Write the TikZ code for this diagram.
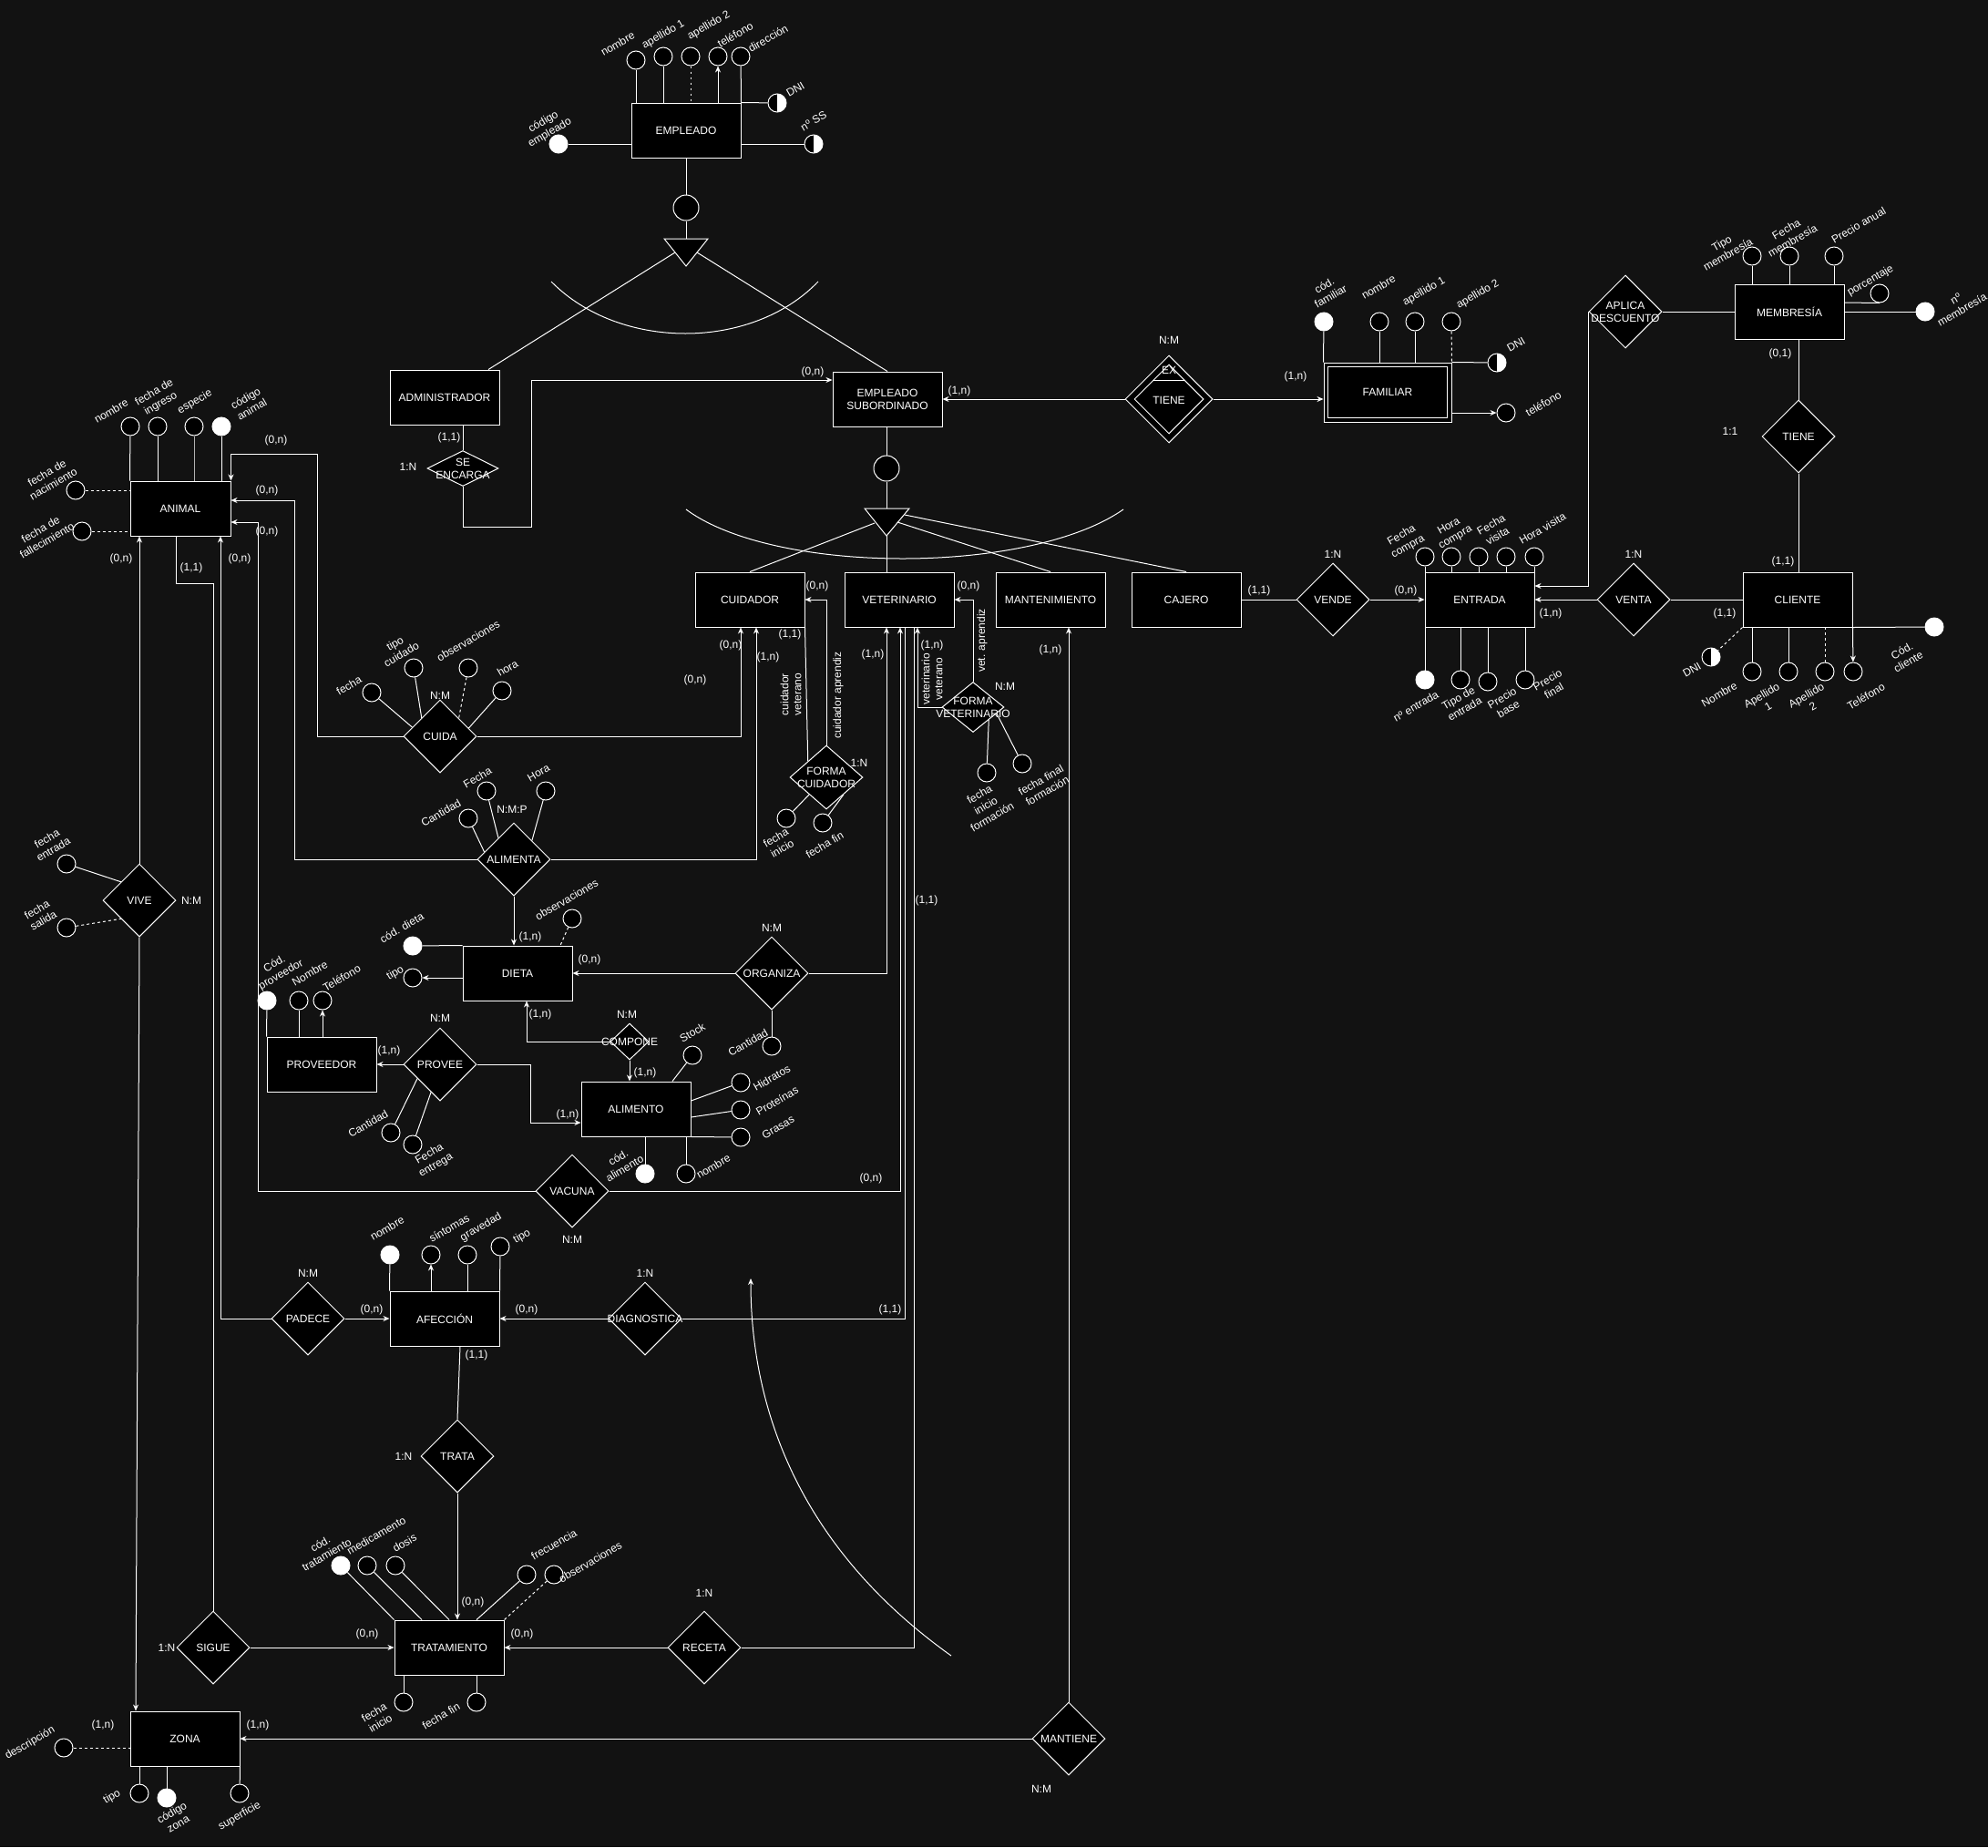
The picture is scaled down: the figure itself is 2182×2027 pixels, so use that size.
\documentclass[tikz,border=0pt]{standalone}
\usepackage{fontspec}
\setmainfont{Liberation Sans}
\usetikzlibrary{shapes.geometric,arrows.meta}
\definecolor{fondo}{RGB}{18,18,18}

\begin{document}
\begin{tikzpicture}[x=1pt,y=-1pt,color=white,line width=1pt,
	>={Stealth[length=7pt,width=6pt]},
	every node/.style={font=\fontsize{12}{14}\selectfont},
	entidad/.style={draw,fill=black,minimum width=120pt,minimum height=60pt,inner sep=0pt,align=center},
	relacion/.style={diamond,draw,fill=black,minimum width=80pt,minimum height=80pt,inner sep=0pt,label={[align=center]center:#1}},
	atr/.style={circle,draw,fill=black,minimum size=20pt,inner sep=0pt},
	clave/.style={atr,fill=white},
	mixto/.style={atr,fill=white,path picture={\fill[black] (path picture bounding box.south west) rectangle (path picture bounding box.north);}},
	isa/.style={circle,draw,fill=black,minimum size=28pt,inner sep=0pt},
	etq/.style={rotate=30,align=center},
	etqv/.style={rotate=90,align=center},
	disc/.style={dash pattern=on 3pt off 3pt},
	punt/.style={dash pattern=on 2pt off 4pt}]
	%fondo
	\useasboundingbox (0,0) rectangle (2182,2027);
	\fill[fondo] (0,0) rectangle (2182,2027);

	%EMPLEADO
	\node[entidad] (empleado) at (753,143) {EMPLEADO};
	\node[atr] (e1) at (698,66) {};
	\node[atr] (e2) at (728,62) {};
	\node[atr] (e3) at (758,62) {};
	\node[atr] (e4) at (788,62) {};
	\node[atr] (e5) at (813,62) {};
	\node[mixto] (e6) at (853,113) {};
	\node[mixto] (e7) at (893,158) {};
	\node[clave] (e8) at (613,158) {};
	\draw (e1) -- (e1 |- empleado.north);
	\draw (e2) -- (e2 |- empleado.north);
	\draw[punt] (e3) -- (e3 |- empleado.north);
	\draw[->] (e4 |- empleado.north) -- (e4);
	\draw (e5) -- (empleado.north east) -- (e6);
	\draw (empleado.east |- e7) -- (e7);
	\draw (e8) -- (empleado.west |- e8);
	\node[etq] (le1) at (678,48) {nombre};
	\node[etq] (le2) at (728,38) {apellido 1};
	\node[etq] (le3) at (778,28) {apellido 2};
	\node[etq] (le4) at (807,38) {teléfono};
	\node[etq] (le5) at (843,42) {dirección};
	\node[etq] (le6) at (873,98) {DNI};
	\node[etq] (le7) at (893,133) {nº SS};
	\node[etq] (le8) at (600,140) {código\\empleado};

	%especializacion 1
	\node[isa] (isa1) at (753,228) {};
	\coordinate (tri1) at (753,292);
	\coordinate (tri1a) at (741,277);
	\coordinate (tri1b) at (765,277);
	\draw (empleado.south) -- (isa1);
	\draw (isa1) -- (isa1 |- 0,262);
	\draw[fill=black] (729,262) -- (777,262) -- (tri1) -- cycle;
	\draw (605,309) .. controls (680,385) and (825,385) .. (898,309);
	\node[entidad] (admin) at (488,436) {ADMINISTRADOR};
	\node[entidad] (empsub) at (974,438) {EMPLEADO\\SUBORDINADO};
	\draw (tri1a) -- (admin.north -| 536,0);
	\draw (tri1b) -- (empsub.north);
	\node[relacion={SE\\ENCARGA},minimum width=78pt,minimum height=39pt] (encarga) at (508,514) {};
	\draw (admin.south -| encarga) -- (encarga.north);
	\draw[->] (encarga.south) |- (583,578) |- (empsub.west |- 0,417);
	\node (k1) at (493,480) {(1,1)};
	\node (k2) at (448,512) {1:N};
	\node (k3) at (892,408) {(0,n)};
	\node (k4) at (1053,429) {(1,n)};

	%especializacion 2
	\node[isa] (isa2) at (973,514) {};
	\coordinate (tri2) at (973,588);
	\coordinate (tri2a) at (960,574);
	\coordinate (tri2b) at (985,573);
	\coordinate (tri2c) at (993,565);
	\draw (isa2 |- empsub.south) -- (isa2);
	\draw (isa2) -- (isa2 |- 0,558);
	\draw[fill=black] (949,558) -- (998,558) -- (tri2) -- cycle;
	\draw (753,559) .. controls (850,631) and (1130,631) .. (1233,559);
	\node[entidad] (cuidador) at (823,658) {CUIDADOR};
	\node[entidad] (veterinario) at (987,658) {VETERINARIO};
	\node[entidad] (mantenimiento) at (1153,658) {MANTENIMIENTO};
	\node[entidad] (cajero) at (1302,658) {CAJERO};
	\draw (tri2a) -- (cuidador.north);
	\draw (tri2) -- (veterinario.north -| tri2);
	\draw (tri2b) -- (mantenimiento.north);
	\draw (tri2c) -- (cajero.north);

	%FAMILIAR
	\node[relacion={},minimum width=96pt,minimum height=96pt] (tiene1) at (1283,438) {};
	\node[diamond,draw,minimum width=76pt,minimum height=76pt,inner sep=0pt] (tiene1i) at (tiene1) {};
	\node (ex) at (1283,406) {EX};
	\draw (1265,417) -- (1301,417);
	\node (tiene1t) at (1283,439) {TIENE};
	\node[entidad,minimum width=140pt,minimum height=65pt] (familiar) at (1523,430.5) {FAMILIAR};
	\draw ([shift={(5,5)}]familiar.north west) rectangle ([shift={(-5,-5)}]familiar.south east);
	\draw[->] (tiene1.west) -- (empsub.east);
	\draw[->] (tiene1.east) -- (familiar.west |- tiene1.east);
	\node[clave] (f1) at (1453,353) {};
	\node[atr] (f2) at (1514,353) {};
	\node[atr] (f3) at (1553,353) {};
	\node[atr] (f4) at (1593,353) {};
	\node[mixto] (f5) at (1643,398) {};
	\node[atr] (f6) at (1653,453) {};
	\draw (f1) -- (familiar.north west);
	\draw (f2) -- (f2 |- familiar.north);
	\draw (f3) -- (f3 |- familiar.north);
	\draw[disc] (f4) -- (familiar.north east);
	\draw (familiar.north east) -- (f5);
	\draw[->] (familiar.east |- f6) -- (f6);
	\node[etq] (lf1) at (1457,319) {cód.\\familiar};
	\node[etq] (lf2) at (1513,315) {nombre};
	\node[etq] (lf3) at (1563,320) {apellido 1};
	\node[etq] (lf4) at (1622,323) {apellido 2};
	\node[etq] (lf5) at (1664,378) {DNI};
	\node[etq] (lf6) at (1694,443) {teléfono};
	\node (k5) at (1283,373) {N:M};
	\node (k6) at (1422,413) {(1,n)};

	%MEMBRESIA
	\node[entidad] (membresia) at (1964,342) {MEMBRESÍA};
	\node[relacion={APLICA\\DESCUENTO}] (aplica) at (1784,342) {};
	\node[relacion=TIENE] (tiene2) at (1974,479) {};
	\node[atr] (m1) at (1923,281) {};
	\node[atr] (m2) at (1964,281) {};
	\node[atr] (m3) at (2013,281) {};
	\node[atr] (m4) at (2063,322) {};
	\node[clave] (m5) at (2113,342) {};
	\draw (m1) -- (m1 |- membresia.north);
	\draw (m2) -- (m2 |- membresia.north);
	\draw (m3) -- (m3 |- membresia.north);
	\draw (membresia.east |- 0,332) -- (m4.south);
	\draw (membresia.east) -- (m5);
	\node[etq] (lm1) at (1893,273) {Tipo\\membresía};
	\node[etq] (lm2) at (1964,258) {Fecha\\membresía};
	\node[etq] (lm3) at (2040,247) {Precio anual};
	\node[etq] (lm4) at (2053,308) {porcentaje};
	\node[etq] (lm5) at (2150,334) {nº\\membresía};
	\draw (aplica.east) -- (membresia.west);
	\draw (tiene2.north |- membresia.south) -- (tiene2.north);
	\node (k7) at (1954,388) {(0,1)};
	\node (k8) at (1899,473) {1:1};

	%ENTRADA y CLIENTE
	\node[entidad] (entrada) at (1624,658) {ENTRADA};
	\node[entidad] (cliente) at (1973,658) {CLIENTE};
	\node[relacion=VENDE] (vende) at (1463,658) {};
	\node[relacion=VENTA] (venta) at (1793,658) {};
	\draw (cajero.east) -- (vende.west);
	\draw[->] (vende.east) -- (entrada.west);
	\draw (cliente.west) -- (venta.east);
	\draw[->] (venta.west) -- (entrada.east);
	\draw[->] (aplica.west) |- (entrada.east |- 0,643);
	\draw (tiene2.south) -- (tiene2.south |- cliente.north);
	\node[atr] (n1) at (1564,611) {};
	\node[atr] (n2) at (1593,611) {};
	\node[atr] (n3) at (1623,611) {};
	\node[atr] (n4) at (1653,611) {};
	\node[atr] (n5) at (1684,611) {};
	\foreach \n in {n1,n2,n3,n4,n5}
		\draw (\n) -- (\n |- entrada.north);
	\node[clave] (n6) at (1564,746) {};
	\node[atr] (n7) at (1603,746) {};
	\node[atr] (n8) at (1633,748) {};
	\node[atr] (n9) at (1674,746) {};
	\foreach \n in {n6,n7,n8,n9}
		\draw (\n) -- (\n |- entrada.south);
	\node[etq] (ln1) at (1542,594) {Fecha\\compra};
	\node[etq] (ln2) at (1594,584) {Hora\\compra};
	\node[etq] (ln3) at (1640,582) {Fecha\\visita};
	\node[etq] (ln4) at (1693,580) {Hora visita};
	\node[etq] (ln6) at (1554,775) {nº entrada};
	\node[etq] (ln7) at (1604,772) {Tipo de\\entrada};
	\node[etq] (ln8) at (1652,772) {Precio\\base};
	\node[etq] (ln9) at (1702,752) {Precio\\final};
	\node[mixto] (c1) at (1878,721) {};
	\node[atr] (c2) at (1923,737) {};
	\node[atr] (c3) at (1963,737) {};
	\node[atr] (c4) at (2003,737) {};
	\node[atr] (c5) at (2034,737) {};
	\node[clave] (c6) at (2123,688) {};
	\draw[disc] (cliente.south west) -- (c1);
	\draw (c2) -- (c2 |- cliente.south);
	\draw (c3) -- (c3 |- cliente.south);
	\draw[disc] (c4) -- (c4 |- cliente.south);
	\draw[->] (cliente.south east) -- (c5);
	\draw (cliente.south east) -- (c6);
	\node[etq] (lc1) at (1857,735) {DNI};
	\node[etq] (lc2) at (1887,762) {Nombre};
	\node[etq] (lc3) at (1937,769) {Apellido\\1};
	\node[etq] (lc4) at (1986,769) {Apellido\\2};
	\node[etq] (lc5) at (2048,764) {Teléfono};
	\node[etq] (lc6) at (2091,720) {Cód.\\cliente};
	\node (k9) at (1957,616) {(1,1)};
	\node (k10) at (1893,673) {(1,1)};
	\node (k11) at (1793,608) {1:N};
	\node (k12) at (1702,673) {(1,n)};
	\node (k13) at (1543,648) {(0,n)};
	\node (k14) at (1463,608) {1:N};
	\node (k15) at (1382,648) {(1,1)};

	%formacion
	\node[relacion={FORMA\\CUIDADOR},minimum height=70pt] (formacuid) at (907,853) {};
	\node[relacion={FORMA\\VETERINARIO},minimum width=68pt,minimum height=55pt] (formavet) at (1068,776) {};
	\draw[->] (formacuid.north) |- (cuidador.east);
	\draw (formacuid.north west) -- (cuidador.south east);
	\draw[->] (formavet.north) |- (veterinario.east);
	\draw[->] (formavet.west) -| (veterinario.south -| 1007,0);
	\node[atr] (fc1) at (863,898) {};
	\node[atr] (fc2) at (903,903) {};
	\draw (fc1) -- (formacuid.225);
	\draw (fc2) -- (formacuid.315);
	\node[etq] (lfc1) at (855,925) {fecha\\inicio};
	\node[etq] (lfc2) at (905,927) {fecha fin};
	\node[atr] (fv1) at (1083,848) {};
	\node[atr] (fv2) at (1122,838) {};
	\draw (fv1) -- (formavet.south east);
	\draw (fv2) -- (formavet.345);
	\node[etq] (lfv1) at (1082,884) {fecha\\inicio\\formación};
	\node[etq] (lfv2) at (1146,862) {fecha final\\formación};
	\node[etqv] (lv1) at (868,762) {cuidador\\veterano};
	\node[etqv] (lv2) at (920,763) {cuidador aprendiz};
	\node[etqv] (lv3) at (1078,703) {vet. aprendiz};
	\node[etqv] (lv4) at (1023,745) {veterinario\\veterano};
	\node (k16) at (897,643) {(0,n)};
	\node (k17) at (867,696) {(1,1)};
	\node (k21) at (943,837) {1:N};
	\node (k22) at (1063,643) {(0,n)};
	\node (k23) at (1023,708) {(1,n)};
	\node (k24) at (1103,753) {N:M};

	%ANIMAL
	\node[entidad,minimum width=110pt] (animal) at (198,558) {ANIMAL};
	\node[atr] (a1) at (143,468) {};
	\node[atr] (a2) at (173,468) {};
	\node[atr] (a3) at (213,468) {};
	\node[clave] (a4) at (243,468) {};
	\node[atr] (a5) at (83,538) {};
	\node[atr] (a6) at (90,583) {};
	\draw (a1) -- (animal.north west);
	\draw (a2) -- (a2 |- animal.north);
	\draw[gray!60!white] (a3) -- (a3 |- animal.north);
	\draw (a4) -- (a4 |- animal.north);
	\draw[disc] (a5) -- (animal.west |- a5);
	\draw[disc] (a6) -- (animal.west |- a6);
	\node[etq] (la1) at (122,451) {nombre};
	\node[etq] (la2) at (173,437) {fecha de\\ingreso};
	\node[etq] (la3) at (214,441) {especie};
	\node[etq] (la4) at (273,443) {código\\animal};
	\node[etq] (la5) at (55,525) {fecha de\\nacimiento};
	\node[etq] (la6) at (48,587) {fecha de\\fallecimiento};

	%CUIDA y ALIMENTA
	\node[relacion=CUIDA] (cuida) at (483,808) {};
	\node[relacion=ALIMENTA] (alimenta) at (564,943) {};
	\node[atr] (u1) at (408,760) {};
	\node[atr] (u2) at (454,733) {};
	\node[atr] (u3) at (514,733) {};
	\node[atr] (u4) at (551,758) {};
	\draw (u1) -- (cuida.162);
	\draw (u2) -- (cuida.135);
	\draw[disc] (u3) -- (cuida.44);
	\draw (u4) -- (cuida.16);
	\node[etq] (lu1) at (383,752) {fecha};
	\node[etq] (lu2) at (437,712) {tipo\\cuidado};
	\node[etq] (lu3) at (514,703) {observaciones};
	\node[etq] (lu4) at (557,733) {hora};
	\node[atr] (l1) at (514,898) {};
	\node[atr] (l2) at (534,868) {};
	\node[atr] (l3) at (599,868) {};
	\draw (l1) -- (alimenta.166);
	\draw (l2) -- (alimenta.126);
	\draw (l3) -- (alimenta.46);
	\node[etq] (ll1) at (484,892) {Cantidad};
	\node[etq] (ll2) at (524,853) {Fecha};
	\node[etq] (ll3) at (591,848) {Hora};
	\draw[->] (cuida.west) -| (348,498) -| (animal.north east);
	\draw[->] (alimenta.west) -| (323,549) -- (animal.east |- 0,549);
	\draw[->] (cuida.east) -| (cuidador.south -| 813,0);
	\draw[->] (alimenta.east) -| (cuidador.south -| 830,0);
	\node (k18) at (802,708) {(0,n)};
	\node (k19) at (843,721) {(1,n)};
	\node (k20) at (763,746) {(0,n)};
	\node (k34) at (483,763) {N:M};
	\node (k35) at (562,888) {N:M:P};

	%VIVE
	\node[relacion=VIVE] (vive) at (153,988) {};
	\node[atr] (v1) at (73,948) {};
	\node[atr] (v2) at (73,1018) {};
	\draw (v1) -- (vive.north west);
	\draw[disc] (v2) -- (vive.south west);
	\node[etq] (lvv1) at (55,926) {fecha\\entrada};
	\node[etq] (lvv2) at (44,1004) {fecha\\salida};
	\draw[->] (vive.north) -- (vive.north |- animal.south);
	\node (k36) at (210,988) {N:M};

	%DIETA
	\node[entidad] (dieta) at (568,1068) {DIETA};
	\node[clave] (d1) at (453,1038) {};
	\node[atr] (d2) at (453,1073) {};
	\node[atr] (d3) at (628,1008) {};
	\draw (d1) -- (dieta.north west);
	\draw[->] (dieta.west |- d2) -- (d2);
	\draw[disc] (d3) -- (dieta.north -| 615,0);
	\node[etq] (ld1) at (441,1018) {cód. dieta};
	\node[etq] (ld2) at (434,1068) {tipo};
	\node[etq] (ld3) at (622,987) {observaciones};
	\draw[->] (alimenta.south) -- (alimenta.south |- dieta.north);
	\node[relacion=ORGANIZA] (organiza) at (847,1068) {};
	\node[atr] (o1) at (847,1148) {};
	\draw (organiza.south) -- (o1);
	\node[etq] (lo1) at (821,1144) {Cantidad};
	\draw[->] (organiza.west) -- (dieta.east);
	\draw[->] (organiza.east) -| (veterinario.south -| 973,0);
	\node (k25) at (958,718) {(1,n)};
	\node (k37) at (582,1028) {(1,n)};
	\node (k38) at (647,1053) {(0,n)};
	\node (k39) at (847,1018) {N:M};

	%PROVEEDOR y ALIMENTO
	\node[entidad] (proveedor) at (353,1168) {PROVEEDOR};
	\node[entidad] (alimento) at (698,1217) {ALIMENTO};
	\node[relacion=PROVEE] (provee) at (483,1168) {};
	\node[relacion=COMPONE,minimum width=42pt,minimum height=40pt] (compone) at (691,1143) {};
	\node[clave] (p1) at (293,1098) {};
	\node[atr] (p2) at (328,1098) {};
	\node[atr] (p3) at (354,1098) {};
	\draw (p1) -- (proveedor.north west);
	\draw (p2) -- (p2 |- proveedor.north);
	\draw[->] (p3 |- proveedor.north) -- (p3);
	\node[etq] (lp1) at (305,1064) {Cód.\\proveedor};
	\node[etq] (lp2) at (340,1068) {Nombre};
	\node[etq] (lp3) at (375,1073) {Teléfono};
	\node[atr] (pv1) at (429,1243) {};
	\node[atr] (pv2) at (453,1256) {};
	\draw (pv1) -- (provee.212);
	\draw (pv2) -- (provee.252);
	\node[etq] (lpv1) at (404,1233) {Cantidad};
	\node[etq] (lpv2) at (475,1273) {Fecha\\entrega};
	\draw[->] (provee.west) -- (proveedor.east);
	\draw[->] (provee.east) -| (582,1232) -- (alimento.west |- 0,1232);
	\draw[->] (compone.west) -| (dieta.south -| 578,0);
	\draw[->] (compone.south) -- (compone.south |- alimento.north);
	\node[atr] (ao1) at (760,1158) {};
	\node[atr] (ao2) at (813,1188) {};
	\node[atr] (ao3) at (813,1218) {};
	\node[atr] (ao4) at (813,1248) {};
	\node[clave] (ao5) at (708,1288) {};
	\node[atr] (ao6) at (753,1288) {};
	\draw (ao1) -- (alimento.north -| 738,0);
	\draw (alimento.east |- 0,1208) -- (ao2);
	\draw (alimento.east |- 0,1226) -- (ao3);
	\draw (alimento.south east) -- (ao4);
	\draw (ao5) -- (ao5 |- alimento.south);
	\draw (ao6) -- (ao6 |- alimento.south);
	\node[etq] (lao1) at (760,1133) {Stock};
	\node[etq] (lao2) at (847,1183) {Hidratos};
	\node[etq] (lao3) at (853,1208) {Proteínas};
	\node[etq] (lao4) at (854,1237) {Grasas};
	\node[etq] (lao5) at (682,1276) {cód.\\alimento};
	\node[etq] (lao6) at (783,1280) {nombre};
	\node (k40) at (593,1113) {(1,n)};
	\node (k41) at (688,1113) {N:M};
	\node (k42) at (708,1177) {(1,n)};
	\node (k43) at (483,1117) {N:M};
	\node (k44) at (427,1153) {(1,n)};
	\node (k45) at (623,1223) {(1,n)};

	%VACUNA
	\node[relacion=VACUNA] (vacuna) at (628,1307) {};
	\draw[->] (vacuna.west) -| (283,573) -- (animal.east |- 0,573);
	\draw[->] (vacuna.east) -| (veterinario.south -| 988,0);
	\node (k29) at (293,538) {(0,n)};
	\node (k30) at (293,583) {(0,n)};
	\node (k28) at (303,483) {(0,n)};
	\node (k46) at (956,1293) {(0,n)};
	\node (k47) at (628,1360) {N:M};

	%AFECCION
	\node[entidad] (afeccion) at (488,1447) {AFECCIÓN};
	\node[relacion=PADECE] (padece) at (338,1447) {};
	\node[relacion=DIAGNOSTICA] (diagnostica) at (708,1447) {};
	\node[clave] (af1) at (428,1377) {};
	\node[atr] (af2) at (473,1377) {};
	\node[atr] (af3) at (513,1377) {};
	\node[atr] (af4) at (549,1368) {};
	\draw (af1) -- (afeccion.north west);
	\draw[->] (af2 |- afeccion.north) -- (af2);
	\draw (af3) -- (af3 |- afeccion.north);
	\draw (af4) -- (afeccion.north east);
	\node[etq] (laf1) at (425,1348) {nombre};
	\node[etq] (laf2) at (493,1348) {síntomas};
	\node[etq] (laf3) at (528,1347) {gravedad};
	\node[etq] (laf4) at (573,1357) {tipo};
	\draw[->] (padece.east) -- (afeccion.west);
	\draw[->] (padece.west) -| (animal.south -| 242,0);
	\draw[->] (diagnostica.west) -- (afeccion.east);
	\draw (diagnostica.east) -| (veterinario.south -| 993,0);
	\node (k31) at (133,613) {(0,n)};
	\node (k33) at (263,613) {(0,n)};
	\node (k48) at (338,1397) {N:M};
	\node (k49) at (408,1437) {(0,n)};
	\node (k50) at (708,1397) {1:N};
	\node (k51) at (578,1437) {(0,n)};
	\node (k52) at (977,1437) {(1,1)};

	%TRATAMIENTO
	\node[relacion=TRATA] (trata) at (502,1598) {};
	\node[entidad] (tratamiento) at (493,1808) {TRATAMIENTO};
	\node[relacion=SIGUE] (sigue) at (234,1808) {};
	\node[relacion=RECETA] (receta) at (773,1808) {};
	\draw (afeccion.south -| 505,0) -- (trata.north);
	\draw[->] (trata.south) -- (trata.south |- tratamiento.north);
	\draw (animal.south -| 193,0) |- (234,640) -- (sigue.north);
	\draw[->] (sigue.east) -- (tratamiento.west);
	\draw[->] (receta.west) -- (tratamiento.east);
	\draw (receta.east) -| (veterinario.south -| 1003,0);
	\node[clave] (t1) at (374,1718) {};
	\node[atr] (t2) at (403,1718) {};
	\node[atr] (t3) at (434,1718) {};
	\node[atr] (t4) at (578,1728) {};
	\node[atr] (t5) at (608,1728) {};
	\node[atr] (t6) at (443,1868) {};
	\node[atr] (t7) at (523,1868) {};
	\draw (t1) -- (tratamiento.north west);
	\draw (t2) -- (tratamiento.north -| 463,0);
	\draw (t3) -- (tratamiento.north);
	\draw (t4) -- (tratamiento.north -| 523,0);
	\draw[disc] (t5) -- (tratamiento.north east);
	\draw (t6) -- (t6 |- tratamiento.south);
	\draw (t7) -- (t7 |- tratamiento.south);
	\node[etq] (lt1) at (355,1700) {cód.\\tratamiento};
	\node[etq] (lt2) at (413,1685) {medicamento};
	\node[etq] (lt3) at (444,1693) {dosis};
	\node[etq] (lt4) at (608,1695) {frecuencia};
	\node[etq] (lt5) at (648,1714) {observaciones};
	\node[etq] (lt6) at (414,1885) {fecha\\inicio};
	\node[etq] (lt7) at (484,1883) {fecha fin};
	\node (k27) at (1017,988) {(1,1)};
	\node (k32) at (210,623) {(1,1)};
	\node (k53) at (523,1487) {(1,1)};
	\node (k54) at (443,1598) {1:N};
	\node (k55) at (183,1808) {1:N};
	\node (k56) at (403,1793) {(0,n)};
	\node (k57) at (519,1758) {(0,n)};
	\node (k58) at (573,1793) {(0,n)};
	\node (k59) at (773,1748) {1:N};
	%flecha suelta
	\coordinate (cur1) at (1044,1817);
	\coordinate (cur2) at (824,1403);
	\draw[->] (cur1) .. controls (880,1700) and (824,1550) .. (cur2);

	%ZONA
	\node[entidad] (zona) at (203,1908) {ZONA};
	\node[relacion=MANTIENE] (mantiene) at (1173,1908) {};
	\node[atr] (z1) at (70,1918) {};
	\node[atr] (z2) at (153,1968) {};
	\node[clave] (z3) at (183,1973) {};
	\node[atr] (z4) at (263,1968) {};
	\draw[disc] (z1) -- (zona.west |- z1);
	\draw (z2) -- (z2 |- zona.south);
	\draw (z3) -- (z3 |- zona.south);
	\draw (z4) -- (zona.south east);
	\node[etq] (lz1) at (33,1913) {descripción};
	\node[etq] (lz2) at (123,1972) {tipo};
	\node[etq] (lz3) at (192,1995) {código\\zona};
	\node[etq] (lz4) at (263,1993) {superficie};
	\draw[->] (vive.south) -- (zona.north -| 149,0);
	\draw[->] (mantiene.west) -- (zona.east);
	\draw[->] (mantiene.north) -- (mantiene.north |- mantenimiento.south);
	\node (k26) at (1153,713) {(1,n)};
	\node (k60) at (113,1893) {(1,n)};
	\node (k61) at (283,1893) {(1,n)};
	\node (k62) at (1143,1963) {N:M};
\end{tikzpicture}
\end{document}
